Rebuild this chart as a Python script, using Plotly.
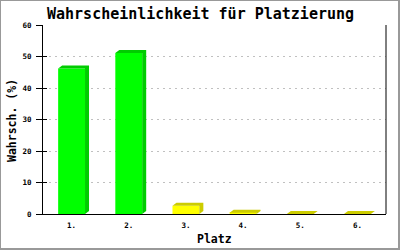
import plotly.graph_objects as go

categories = ["1.", "2.", "3.", "4.", "5.", "6."]
values = [46.2, 51.1, 2.6, 0.4, 0.0, 0.0]
front_colors = ["#00FF00", "#00FF00", "#FFFF00", "#FFFF00", "#FFFF00", "#FFFF00"]
side_colors = ["#00CC00", "#00CC00", "#CCCC00", "#CCCC00", "#CCCC00", "#CCCC00"]
y_ticks = [0, 10, 20, 30, 40, 50, 60]

W = 0.47
DX = 0.07
DY = 0.95

# plot area in pixels
L, R, T, B = 43, 386, 25, 214
PW, PH = R - L, B - T


def px_x(p):
    return (p - L) / PW


def px_y(q):
    return (B - q) / PH


fig = go.Figure()
xs = list(range(len(categories)))

for i, v in enumerate(values):
    x0, x1 = i - W / 2, i + W / 2
    px = [x0, x0 + DX, x1 + DX, x1 + DX, x1, x1, x0]
    py = [v, v + DY, v + DY, DY, 0, v, v]
    fig.add_trace(go.Scatter(x=px, y=py, fill="toself", fillcolor=side_colors[i],
                             mode="lines", line=dict(width=0, color=side_colors[i]),
                             hoverinfo="skip", showlegend=False))

fig.add_trace(go.Bar(x=xs, y=values, width=W, marker=dict(color=front_colors, line=dict(width=0)),
                     showlegend=False, hoverinfo="skip"))
fig.add_trace(go.Scatter(x=[None], y=[None], yaxis="y2", showlegend=False, hoverinfo="skip"))

mono = "DejaVu Sans Mono"
tickfont = dict(family=mono, size=7.5, color="black", weight="bold")
fig.update_layout(
    width=400, height=250,
    margin=dict(l=L, r=400 - R, t=T, b=250 - B, autoexpand=False),
    paper_bgcolor="white", plot_bgcolor="white",
    xaxis=dict(range=[-0.5, 5.5], tickvals=xs, ticktext=categories, showgrid=False,
               showline=True, linecolor="black", linewidth=1, ticks="", zeroline=False,
               automargin=False, ticklabelstandoff=4, tickfont=tickfont),
    yaxis=dict(range=[0, 60], tickvals=y_ticks, showgrid=True, gridcolor="#C0C0C0", griddash="2px,4px",
               gridwidth=1, showline=True, linecolor="black", linewidth=1, ticks="outside",
               ticklen=6, tickcolor="black", zeroline=False, automargin=False,
               ticklabelstandoff=3, tickfont=tickfont),
    yaxis2=dict(range=[0, 60], overlaying="y", side="left", tickvals=y_ticks, showgrid=False,
                showticklabels=False, ticks="inside", ticklen=4, tickcolor="black", showline=False,
                zeroline=False, automargin=False),
    annotations=[
        dict(text="<b>Wahrscheinlichkeit für Platzierung</b>", xref="paper", yref="paper",
             x=px_x(200), y=px_y(14), xanchor="center", yanchor="middle", showarrow=False,
             font=dict(family=mono, size=15, color="black")),
        dict(text="<b>Platz</b>", xref="paper", yref="paper",
             x=px_x(214), y=px_y(239), xanchor="center", yanchor="middle", showarrow=False,
             font=dict(family=mono, size=11.5, color="black")),
        dict(text="<b>Wahrsch. (%)</b>", xref="paper", yref="paper", textangle=-90,
             x=px_x(12), y=px_y(121), xanchor="center", yanchor="middle", showarrow=False,
             font=dict(family=mono, size=11.5, color="black")),
    ],
    shapes=[
        dict(type="line", xref="paper", yref="paper", x0=1, x1=1, y0=0, y1=1,
             line=dict(color="black", width=1)),
        dict(type="line", xref="paper", yref="paper", x0=px_x(0.5), x1=px_x(0.5),
             y0=px_y(0), y1=px_y(250), line=dict(color="#999999", width=1)),
        dict(type="line", xref="paper", yref="paper", x0=px_x(0), x1=px_x(400),
             y0=px_y(0.5), y1=px_y(0.5), line=dict(color="#999999", width=1)),
        dict(type="line", xref="paper", yref="paper", x0=px_x(399), x1=px_x(399),
             y0=px_y(0), y1=px_y(250), line=dict(color="#999999", width=2)),
        dict(type="line", xref="paper", yref="paper", x0=px_x(0), x1=px_x(400),
             y0=px_y(249), y1=px_y(249), line=dict(color="#999999", width=2)),
    ],
)

fig.write_html("out.html")
